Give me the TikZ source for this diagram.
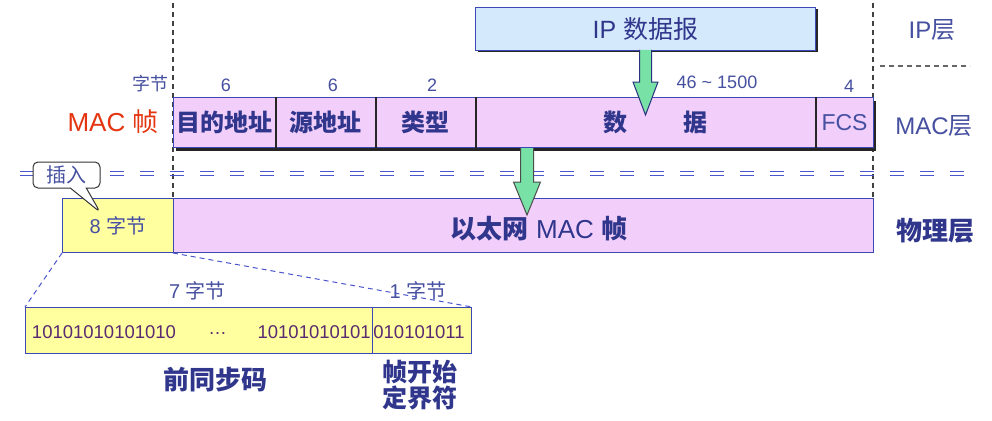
\documentclass[tikz,border=0pt]{standalone}
\usepackage{fontspec}
\setmainfont{Liberation Sans}
\newfontfamily\cjk{Noto Sans CJK SC}
\usetikzlibrary{calc,shadows,shapes.callouts}
\definecolor{pinkf}{RGB}{242,206,251}
\definecolor{yellowf}{RGB}{255,255,160}
\definecolor{bluef}{RGB}{212,234,252}
\definecolor{boxblue}{RGB}{60,72,180}
\definecolor{labelcol}{RGB}{48,54,140}
\definecolor{numcol}{RGB}{70,80,160}
\definecolor{redcol}{RGB}{228,52,16}
\definecolor{dblue}{RGB}{75,85,205}
\definecolor{greenf}{RGB}{120,225,165}
\tikzset{
  guide/.style={draw=black!75, line width=1.1pt, dash pattern=on 5pt off 4pt},
  dblline/.style={draw=dblue, line width=1.6pt, dash pattern=on 14pt off 16pt},
  macbox/.style={draw=boxblue, line width=1pt, fill=pinkf, inner sep=0pt, anchor=north west,
    minimum height=50pt, text=labelcol,
    drop shadow={shadow xshift=2pt, shadow yshift=-3pt, fill=black!85, opacity=1}},
  ethbox/.style={draw=boxblue, line width=1pt, inner sep=0pt, anchor=north west, minimum height=54pt},
  bitbox/.style={draw=boxblue, line width=1pt, fill=yellowf, inner sep=0pt, anchor=north west, minimum height=46pt},
  ipbox/.style={draw=boxblue, line width=1pt, fill=bluef, inner sep=0pt, anchor=north west,
    drop shadow={shadow xshift=2pt, shadow yshift=-2pt, fill=black!85, opacity=1}},
  darkline/.style={draw=black!85, line width=1.2pt},
  garrow/.style={fill=greenf, draw=boxblue!70!black, line width=1pt, line join=miter},
  zoomline/.style={draw=dblue, line width=1pt, dash pattern=on 5pt off 4pt},
  numlab/.style={text=numcol, inner sep=0pt, font=\fontsize{18}{20}\selectfont},
  biglab/.style={text=labelcol, inner sep=0pt, font=\fontsize{26}{28}\selectfont\cjk\bfseries},
  laylab/.style={text=numcol, inner sep=0pt, font=\fontsize{24}{26}\selectfont},
  bits/.style={text=labelcol!80!red, inner sep=0pt, font=\fontsize{18.5}{20}\selectfont},
}
\begin{document}
\begin{tikzpicture}[x=1pt,y=-1pt]
\useasboundingbox[fill=white] (0,0) rectangle (992,420);

% vertical guide lines
\coordinate (vla) at (173,3); \coordinate (vlb) at (173,198);
\coordinate (vra) at (873,3); \coordinate (vrb) at (873,198);
\draw[guide] (vla) -- (vlb);
\draw[guide] (vra) -- (vrb);
\coordinate (ga) at (880,66); \coordinate (gb) at (970,66);
\draw[guide, draw=black!60] (ga) -- (gb);

% double dashed separator
\coordinate (da1) at (20,171.5); \coordinate (db1) at (970,171.5);
\coordinate (da2) at (20,175.5); \coordinate (db2) at (970,175.5);
\draw[dblline] (da1) -- (db1);
\draw[dblline] (da2) -- (db2);

% IP datagram
\node[ipbox, minimum width=340pt, minimum height=43pt, text=labelcol,
  font=\fontsize{25}{27}\selectfont] (ip) at (475,7) {IP {\cjk 数据报}};
\node[laylab] (iplayer) at (932,30) {IP{\cjk 层}};

% MAC frame
\node[macbox, minimum width=102pt, font=\fontsize{24}{26}\selectfont\cjk\bfseries] (dst) at (173,97) {目的地址};
\node[macbox, minimum width=100pt, font=\fontsize{24}{26}\selectfont\cjk\bfseries] (src) at (275,97) {源地址};
\node[macbox, minimum width=100pt, font=\fontsize{24}{26}\selectfont\cjk\bfseries] (typ) at (375,97) {类型};
\node[macbox, minimum width=340pt] (dat) at (475,97) {};
\node[macbox, minimum width=58pt, text=numcol, font=\fontsize{23}{26}\selectfont] (fcs) at (815,97) {FCS};
\draw[darkline] (dst.north east) -- (dst.south east);
\draw[darkline] (src.north east) -- (src.south east);
\draw[darkline] (typ.north east) -- (typ.south east);
\draw[darkline] (dat.north east) -- (dat.south east);
\node[text=labelcol, inner sep=0pt, font=\fontsize{24}{26}\selectfont\cjk\bfseries] (dattxt) at (655,122) {数\hspace{56pt}据};

\node[numlab] (bytes) at (150,84) {\cjk 字节};
\node[numlab] (n1) at (226,85) {6};
\node[numlab] (n2) at (333,85) {6};
\node[numlab] (n3) at (432,85) {2};
\node[numlab] (n4) at (717,82) {46 \textasciitilde\ 1500};
\node[numlab] (n5) at (849,86) {4};
\node[text=redcol, inner sep=0pt, font=\fontsize{26}{28}\selectfont] (macf) at (113,122) {MAC {\cjk 帧}};
\node[laylab] (maclayer) at (934,126) {MAC{\cjk 层}};

% Ethernet frame
\node[ethbox, fill=yellowf, minimum width=111pt, text=numcol, font=\fontsize{20}{22}\selectfont] (pre8) at (62,198) {8 {\cjk 字节}};
\node[ethbox, fill=pinkf, minimum width=700pt] (eth) at (173,198) {};
\node[text=labelcol, inner sep=0pt, font=\fontsize{26}{28}\selectfont] (ethtxt) at (539,229) {{\cjk\bfseries 以太网} MAC {\cjk\bfseries 帧}};
\node[biglab] (phy) at (935,231) {物理层};

% green arrows
\coordinate (a1s) at (645.5,50); \coordinate (a1e) at (645.5,115);
\draw[garrow] ($(a1s)+(-6,0)$) -- ($(a1s)+(-6,32)$) -- ($(a1s)+(-12.5,32)$) -- (a1e)
  -- ($(a1s)+(12.5,32)$) -- ($(a1s)+(6,32)$) -- ($(a1s)+(6,0)$);
\coordinate (a2s) at (527,148); \coordinate (a2e) at (527,215);
\draw[garrow, draw=black!70] ($(a2s)+(-6.5,0)$) -- ($(a2s)+(-6.5,34)$) -- ($(a2s)+(-13.5,34)$) -- (a2e)
  -- ($(a2s)+(13.5,34)$) -- ($(a2s)+(6.5,34)$) -- ($(a2s)+(6.5,0)$);

% callout
\node[rectangle callout, draw=black!80, line width=1pt, fill=white, rounded corners=5pt,
  minimum width=67pt, minimum height=26pt, inner sep=0pt, callout pointer width=16pt,
  callout absolute pointer={(100,212)}, text=numcol, font=\fontsize{20}{22}\selectfont\cjk] (ins) at (66.5,175) {插入};

% preamble detail
\node[bitbox, minimum width=347pt] (pre) at (25,307) {};
\node[bitbox, minimum width=99pt] (sfd) at (372,307) {};
\node[bits] (b1) at (104,332) {10101010101010};
\node[bits] (b2) at (217.5,334) {\dots};
\node[bits, anchor=east] (b3) at (371,332) {10101010101};
\node[bits] (b4) at (419,332) {010101011};

\node[text=numcol, inner sep=0pt, font=\fontsize{20}{22}\selectfont] (s7) at (197.5,291) {7 {\cjk 字节}};
\node[text=numcol, inner sep=0pt, font=\fontsize{20}{22}\selectfont] (s1) at (418,291) {1 {\cjk 字节}};

\draw[zoomline] (pre8.south west) -- (pre.north west);
\draw[zoomline] (eth.south west) -- (sfd.north east);

\node[biglab] (pretxt) at (215,380) {前同步码};
\node[biglab, align=center, font=\fontsize{25}{26}\selectfont\cjk\bfseries] (sfdtxt) at (420,385) {帧开始\\定界符};
\end{tikzpicture}
\end{document}
